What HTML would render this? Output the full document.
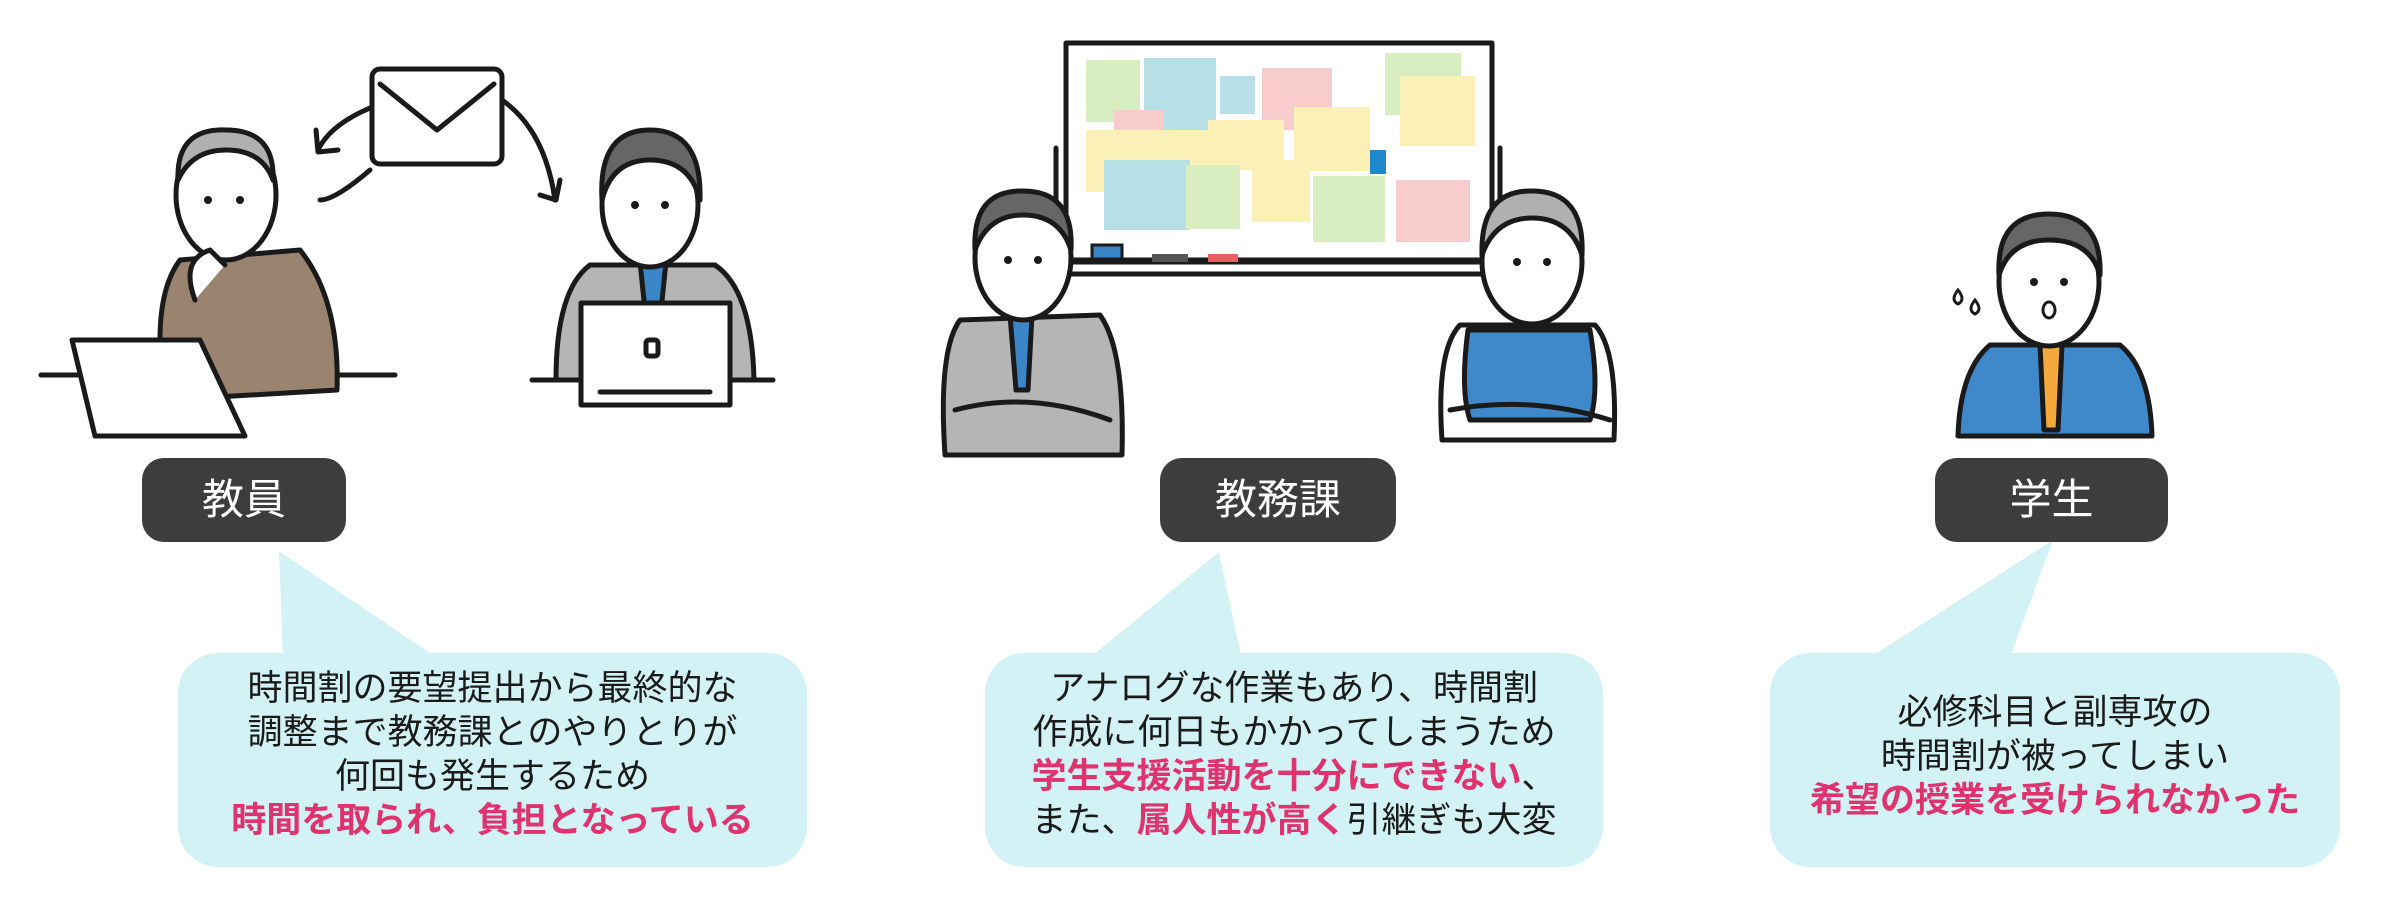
<!DOCTYPE html>
<html><head><meta charset="utf-8">
<style>
html,body{margin:0;padding:0;background:#fff;}
#c{position:relative;width:2400px;height:903px;overflow:hidden;font-family:"Liberation Sans","Noto Sans CJK JP",sans-serif;}
svg{position:absolute;left:0;top:0;}
.lab{position:absolute;top:458px;height:84px;background:#3d3d3d;border-radius:22px;color:#fff;font-size:42px;line-height:84px;text-align:center;}
.bt{position:absolute;text-align:center;font-size:35px;line-height:44px;color:#1a1a1a;}
.p{color:#e0336e;font-weight:bold;}
</style></head><body><div id="c">
<svg width="2400" height="903" viewBox="0 0 2400 903">
<g fill="#d3f2f5">
<rect x="178" y="653" width="629" height="214" rx="40"/>
<polygon points="279,551 283,660 440,660"/>
<rect x="985" y="653" width="618" height="214" rx="40"/>
<polygon points="1219,552 1087,660 1242,660"/>
<rect x="1770" y="653" width="570" height="214" rx="40"/>
<polygon points="2053,540 1866,660 2009,660"/>
</g>
<g stroke="#1a1a1a" stroke-width="5" stroke-linejoin="round" stroke-linecap="round">
<!-- envelope & arrows -->
<rect x="372" y="69" width="130" height="95" rx="8" fill="#fff"/>
<polyline points="380,84 437,130 494,84" fill="none"/>
<path d="M370,108 Q330,125 318,150" fill="none"/><polyline points="316,130 318,152 338,150" fill="none"/>
<path d="M502,100 Q545,130 555,200" fill="none"/><polyline points="540,195 556,200 560,180" fill="none"/>
<path d="M370,170 Q335,200 320,200" fill="none"/>
<!-- teacher left -->
<line x1="41" y1="375" x2="395" y2="375"/>
<path d="M165,400 Q150,300 180,260 L300,250 Q340,300 337,390 Z" fill="#9a8470"/>
<ellipse cx="226" cy="195" rx="50" ry="65" fill="#fff"/>
<path d="M178,180 Q176,128 226,130 Q275,130 273,180 Q262,150 226,150 Q192,150 178,180 Z" fill="#b0b0b0"/>
<path d="M195,300 Q180,260 210,250 L225,265" fill="#fff"/>
<polygon points="72,340 200,340 245,436 95,436" fill="#fff"/>
<!-- staff right -->
<line x1="532" y1="380" x2="773" y2="380"/>
<path d="M556,380 Q556,290 590,265 L715,265 Q752,290 754,380 Z" fill="#b5b5b5"/>
<polygon points="640,262 666,262 660,320 646,320" fill="#3b86c8"/>
<ellipse cx="650" cy="205" rx="48" ry="62" fill="#fff"/>
<path d="M602,200 Q598,130 650,130 Q702,130 700,200 Q690,160 650,160 Q612,160 602,200 Z" fill="#666"/>
<rect x="581" y="303" width="149" height="102" fill="#fff"/>
<rect x="646" y="340" width="12" height="16" rx="3" fill="none"/>
<line x1="600" y1="392" x2="710" y2="392"/>
<!-- whiteboard -->
<line x1="1056" y1="148" x2="1056" y2="285"/><line x1="1500" y1="148" x2="1500" y2="285"/>
<rect x="1066" y="43" width="426" height="217" fill="#fff"/>
<line x1="1060" y1="262" x2="1498" y2="262"/><line x1="1060" y1="274" x2="1498" y2="274"/>
</g>
<g>
<rect x="1086" y="60" width="54" height="62" fill="#d8eec0"/><rect x="1144" y="58" width="72" height="80" fill="#b7e0e6"/>
<rect x="1220" y="76" width="35" height="38" fill="#b7e0e6"/><rect x="1262" y="68" width="70" height="62" fill="#f8cccc"/>
<rect x="1385" y="53" width="76" height="62" fill="#d8eec0"/><rect x="1400" y="76" width="75" height="70" fill="#fbf0b5"/>
<rect x="1114" y="110" width="50" height="36" fill="#f8cccc"/><rect x="1086" y="130" width="122" height="62" fill="#fbf0b5"/>
<rect x="1208" y="120" width="76" height="50" fill="#fbf0b5"/><rect x="1294" y="107" width="76" height="64" fill="#fbf0b5"/>
<rect x="1370" y="150" width="16" height="24" fill="#1f88cc"/>
<rect x="1104" y="160" width="86" height="70" fill="#b7e0e6"/><rect x="1186" y="165" width="54" height="64" fill="#d8eec0"/>
<rect x="1252" y="160" width="58" height="62" fill="#fbf0b5"/><rect x="1313" y="176" width="72" height="66" fill="#d8eec0"/>
<rect x="1396" y="180" width="74" height="62" fill="#f8cccc"/>
<rect x="1092" y="245" width="30" height="14" fill="#3b86c8" stroke="#1a1a1a" stroke-width="3"/>
<rect x="1152" y="254" width="36" height="8" fill="#555"/><rect x="1208" y="254" width="30" height="8" fill="#e86060"/>
</g>
<g stroke="#1a1a1a" stroke-width="5" stroke-linejoin="round" stroke-linecap="round">
<!-- meeting left -->
<path d="M945,455 Q938,350 960,320 L1100,315 Q1125,350 1122,455 Z" fill="#b5b5b5"/>
<polygon points="1010,315 1032,315 1028,390 1016,390" fill="#3b86c8"/>
<path d="M955,410 Q1030,390 1110,420" fill="none"/>
<ellipse cx="1023" cy="258" rx="48" ry="62" fill="#fff"/>
<path d="M975,250 Q972,190 1023,191 Q1074,191 1071,250 Q1060,215 1023,215 Q988,215 975,250 Z" fill="#666"/>
<!-- meeting right -->
<path d="M1442,440 Q1436,350 1460,325 L1595,325 Q1618,350 1614,440 Z" fill="#fff"/>
<path d="M1468,330 L1590,330 Q1600,390 1590,420 L1470,420 Q1460,390 1468,330 Z" fill="#3f88c9"/>
<path d="M1450,410 Q1530,395 1610,420" fill="none"/>
<ellipse cx="1532" cy="262" rx="50" ry="62" fill="#fff"/>
<path d="M1482,255 Q1480,190 1532,191 Q1585,191 1582,255 Q1570,218 1532,218 Q1495,218 1482,255 Z" fill="#b0b0b0"/>
<!-- student -->
<path d="M1958,436 Q1960,370 1990,345 L2120,345 Q2150,370 2152,436 Z" fill="#3f88c9"/>
<polygon points="2040,345 2062,345 2058,430 2044,430" fill="#f3a93c"/>
<ellipse cx="2049" cy="282" rx="50" ry="64" fill="#fff"/>
<path d="M1999,275 Q1996,214 2049,214 Q2102,214 2100,275 Q2090,240 2049,240 Q2010,240 1999,275 Z" fill="#666"/>
<ellipse cx="2049" cy="310" rx="6" ry="8" fill="none" stroke-width="3"/>
</g>
<g fill="#1a1a1a">
<circle cx="208" cy="200" r="4"/><circle cx="240" cy="200" r="4"/>
<circle cx="635" cy="205" r="4"/><circle cx="665" cy="205" r="4"/>
<circle cx="1008" cy="260" r="4"/><circle cx="1038" cy="260" r="4"/>
<circle cx="1517" cy="262" r="4"/><circle cx="1547" cy="262" r="4"/>
<circle cx="2034" cy="282" r="4"/><circle cx="2064" cy="282" r="4"/>
</g>
<path d="M1958,290 q-8,10 0,14 q8,-4 0,-14z M1975,300 q-8,10 0,14 q8,-4 0,-14z" fill="#fff" stroke="#1a1a1a" stroke-width="3"/>
</svg>
<div class="lab" style="left:142px;width:204px;">教員</div>
<div class="lab" style="left:1160px;width:236px;">教務課</div>
<div class="lab" style="left:1935px;width:233px;">学生</div>
<div class="bt" style="left:178px;width:629px;top:667px;">時間割の要望提出から最終的な<br>調整まで教務課とのやりとりが<br>何回も発生するため<br><span class="p">時間を取られ、負担となっている</span></div>
<div class="bt" style="left:985px;width:618px;top:667px;">アナログな作業もあり、時間割<br>作成に何日もかかってしまうため<br><span class="p">学生支援活動を十分にできない</span>、<br>また、<span class="p">属人性が高く</span>引継ぎも大変</div>
<div class="bt" style="left:1770px;width:570px;top:691px;">必修科目と副専攻の<br>時間割が被ってしまい<br><span class="p">希望の授業を受けられなかった</span></div>
</div></body></html>
